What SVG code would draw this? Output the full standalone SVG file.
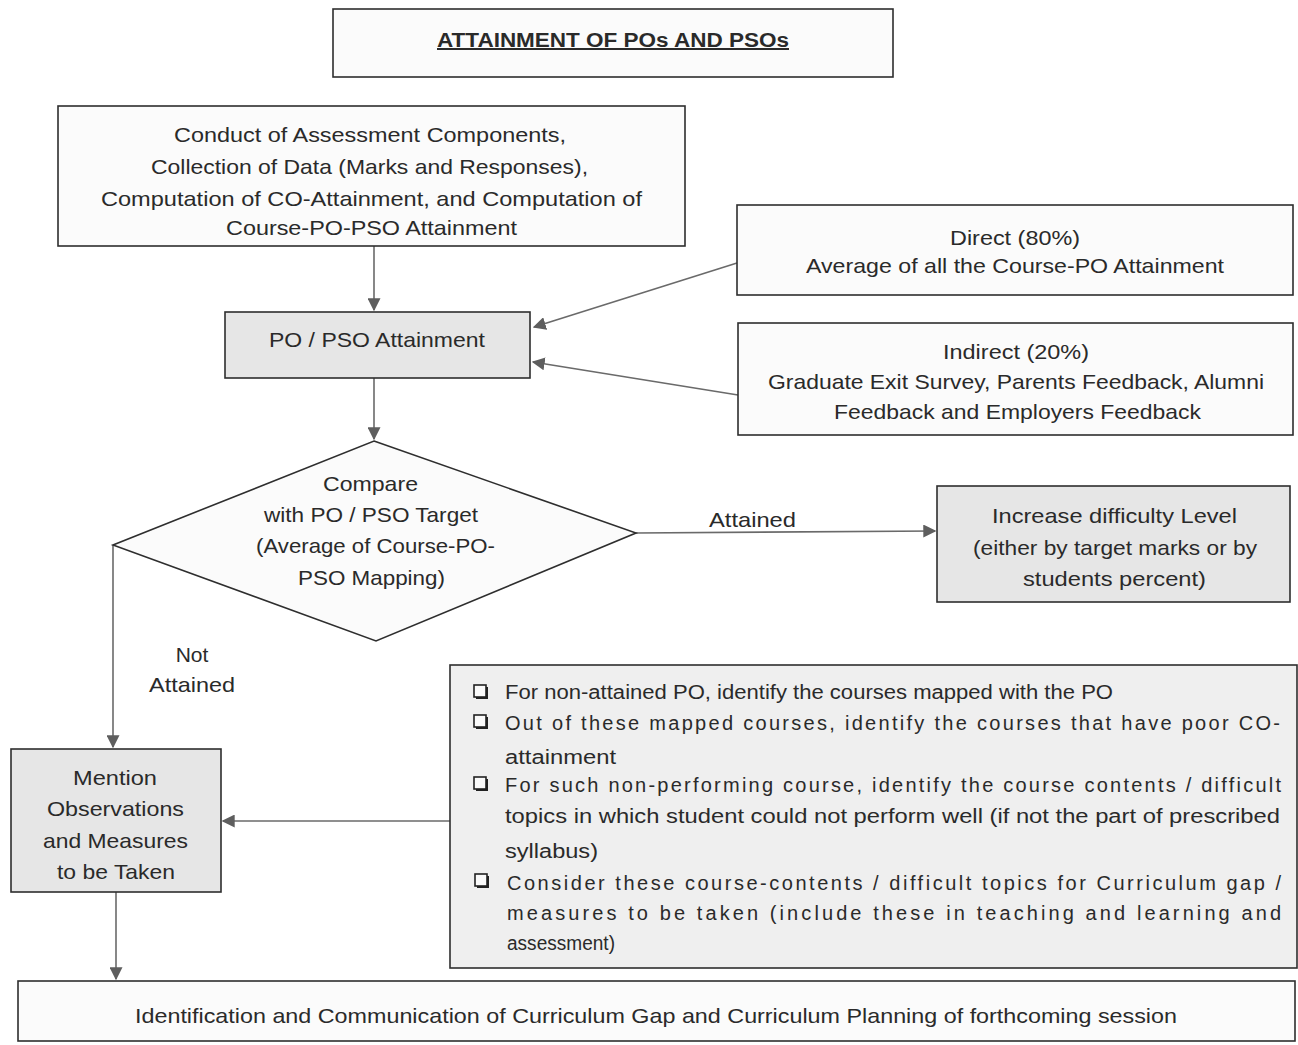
<svg xmlns="http://www.w3.org/2000/svg" width="1298" height="1045" viewBox="0 0 1298 1045">
  <style>
    .box { fill: #fbfbfb; stroke: #2e2e2e; stroke-width: 1.6; }
    .shade { fill: #e6e6e6; stroke: #2e2e2e; stroke-width: 1.6; }
    .list { fill: #efefef; stroke: #2e2e2e; stroke-width: 1.6; }
    .t { font-family: "Liberation Sans", Arial, sans-serif; font-size: 21px; fill: #2a2a2a; }
    .s { font-size: 20px; }
    .c { text-anchor: middle; }
    .title { font-family: "Liberation Sans", Arial, sans-serif; font-size: 20px; font-weight: bold; fill: #2a2a2a; text-decoration: underline; }
    .conn { fill: none; stroke: #6a6a6a; stroke-width: 1.6; }
    .bul { fill: #fafafa; stroke: #222; stroke-width: 1.6; }
  </style>
  <defs>
    <marker id="arrow" viewBox="0 0 10 10" refX="9" refY="5" markerWidth="13" markerHeight="13" markerUnits="userSpaceOnUse" orient="auto">
      <path d="M0,0 L10,5 L0,10 z" fill="#5e5e5e"/>
    </marker>
    <g id="bullet">
      <rect x="2" y="2" width="12" height="12" fill="#222"/>
      <rect x="0" y="0" width="12" height="12" class="bul"/>
    </g>
  </defs>
  <rect width="1298" height="1045" fill="#ffffff"/>

  <!-- Connectors -->
  <g id="connectors">
    <path class="conn" d="M374,246 V310" marker-end="url(#arrow)"/>
    <path class="conn" d="M737,263 L534,327" marker-end="url(#arrow)"/>
    <path class="conn" d="M738,395 L533,362" marker-end="url(#arrow)"/>
    <path class="conn" d="M374,378 V439" marker-end="url(#arrow)"/>
    <path class="conn" d="M636,533 L935,531" marker-end="url(#arrow)"/>
    <path class="conn" d="M113,545 V747" marker-end="url(#arrow)"/>
    <path class="conn" d="M450,821 H223" marker-end="url(#arrow)"/>
    <path class="conn" d="M116,892 V979" marker-end="url(#arrow)"/>
    <text class="t" x="709" y="527" textLength="87" lengthAdjust="spacingAndGlyphs">Attained</text>
    <text class="t c" x="192" y="662">Not</text>
    <text class="t c" x="192" y="692" textLength="86" lengthAdjust="spacingAndGlyphs">Attained</text>
  </g>

  <!-- Title -->
  <g id="title">
    <rect class="box" x="333" y="9" width="560" height="68"/>
    <text class="title" x="437" y="47" textLength="352" lengthAdjust="spacingAndGlyphs">ATTAINMENT OF POs AND PSOs</text>
  </g>

  <!-- Assessment and computation step -->
  <g id="conduct">
    <rect class="box" x="58" y="106" width="627" height="140"/>
    <text class="t" x="174" y="142" textLength="392" lengthAdjust="spacingAndGlyphs">Conduct of Assessment Components,</text>
    <text class="t" x="151" y="174" textLength="437" lengthAdjust="spacingAndGlyphs">Collection of Data (Marks and Responses),</text>
    <text class="t" x="101" y="206" textLength="541" lengthAdjust="spacingAndGlyphs">Computation of CO-Attainment, and Computation of</text>
    <text class="t" x="226" y="235" textLength="291" lengthAdjust="spacingAndGlyphs">Course-PO-PSO Attainment</text>
  </g>

  <!-- PO / PSO attainment -->
  <g id="po-pso">
    <rect class="shade" x="225" y="312" width="305" height="66"/>
    <text class="t" x="269" y="347" textLength="216" lengthAdjust="spacingAndGlyphs">PO / PSO Attainment</text>
  </g>

  <!-- Direct share -->
  <g id="direct">
    <rect class="box" x="737" y="205" width="556" height="90"/>
    <text class="t" x="950" y="245" textLength="130" lengthAdjust="spacingAndGlyphs">Direct (80%)</text>
    <text class="t" x="806" y="273" textLength="418" lengthAdjust="spacingAndGlyphs">Average of all the Course-PO Attainment</text>
  </g>

  <!-- Indirect share -->
  <g id="indirect">
    <rect class="box" x="738" y="323" width="555" height="112"/>
    <text class="t" x="943" y="359" textLength="146" lengthAdjust="spacingAndGlyphs">Indirect (20%)</text>
    <text class="t" x="768" y="389" textLength="496" lengthAdjust="spacingAndGlyphs">Graduate Exit Survey, Parents Feedback, Alumni</text>
    <text class="t" x="834" y="419" textLength="367" lengthAdjust="spacingAndGlyphs">Feedback and Employers Feedback</text>
  </g>

  <!-- Decision -->
  <g id="compare">
    <polygon class="box" points="374,441 636,533 376,641 113,545"/>
    <text class="t" x="323" y="491" textLength="95" lengthAdjust="spacingAndGlyphs">Compare</text>
    <text class="t" x="264" y="522" textLength="214" lengthAdjust="spacingAndGlyphs">with PO / PSO Target</text>
    <text class="t" x="256" y="553" textLength="239" lengthAdjust="spacingAndGlyphs">(Average of Course-PO-</text>
    <text class="t" x="298" y="585" textLength="147" lengthAdjust="spacingAndGlyphs">PSO Mapping)</text>
  </g>

  <!-- Attained branch -->
  <g id="increase">
    <rect class="shade" x="937" y="486" width="353" height="116"/>
    <text class="t" x="992" y="523" textLength="245" lengthAdjust="spacingAndGlyphs">Increase difficulty Level</text>
    <text class="t" x="973" y="555" textLength="284" lengthAdjust="spacingAndGlyphs">(either by target marks or by</text>
    <text class="t" x="1023" y="586" textLength="183" lengthAdjust="spacingAndGlyphs">students percent)</text>
  </g>

  <!-- Not attained branch -->
  <g id="mention">
    <rect class="shade" x="11" y="749" width="210" height="143"/>
    <text class="t" x="73" y="785" textLength="84" lengthAdjust="spacingAndGlyphs">Mention</text>
    <text class="t" x="47" y="816" textLength="137" lengthAdjust="spacingAndGlyphs">Observations</text>
    <text class="t" x="43" y="848" textLength="145" lengthAdjust="spacingAndGlyphs">and Measures</text>
    <text class="t" x="57" y="879" textLength="118" lengthAdjust="spacingAndGlyphs">to be Taken</text>
  </g>

  <!-- Analysis steps -->
  <g id="steps">
    <rect class="list" x="450" y="665" width="847" height="303"/>
    <use href="#bullet" x="474" y="685"/>
    <use href="#bullet" x="474" y="715"/>
    <use href="#bullet" x="474" y="777"/>
    <use href="#bullet" x="475" y="874"/>
    <text class="t s" x="505" y="699" textLength="608" lengthAdjust="spacingAndGlyphs">For non-attained PO, identify the courses mapped with the PO</text>
    <text class="t s" x="505" y="730" textLength="775" lengthAdjust="spacing">Out of these mapped courses, identify the courses that have poor CO-</text>
    <text class="t s" x="505" y="764" textLength="111" lengthAdjust="spacingAndGlyphs">attainment</text>
    <text class="t s" x="505" y="792" textLength="776" lengthAdjust="spacing">For such non-performing course, identify the course contents / difficult</text>
    <text class="t s" x="505" y="823" textLength="775" lengthAdjust="spacingAndGlyphs">topics in which student could not perform well (if not the part of prescribed</text>
    <text class="t s" x="505" y="858" textLength="93" lengthAdjust="spacingAndGlyphs">syllabus)</text>
    <text class="t s" x="507" y="890" textLength="774" lengthAdjust="spacing">Consider these course-contents / difficult topics for Curriculum gap /</text>
    <text class="t s" x="507" y="920" textLength="774" lengthAdjust="spacing">measures to be taken (include these in teaching and learning and</text>
    <text class="t s" x="507" y="950" textLength="108" lengthAdjust="spacingAndGlyphs">assessment)</text>
  </g>

  <!-- Outcome -->
  <g id="curriculum">
    <rect class="box" x="18" y="981" width="1277" height="60"/>
    <text class="t" x="135" y="1023" textLength="1042" lengthAdjust="spacingAndGlyphs">Identification and Communication of Curriculum Gap and Curriculum Planning of forthcoming session</text>
  </g>
</svg>
